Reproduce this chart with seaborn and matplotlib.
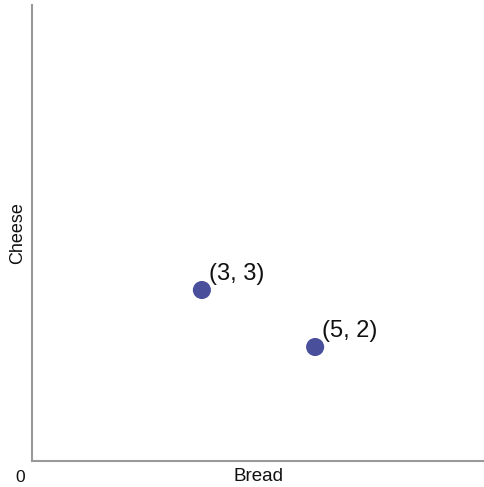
import matplotlib
matplotlib.use("Agg")
import matplotlib.pyplot as plt
import seaborn as sns
import pandas as pd

bread = [3, 5]
cheese = [3, 2]
labels = ["(3, 3)", "(5, 2)"]

sns.set_style("white")
plt.rcParams['font.family'] = ['Liberation Sans', 'DejaVu Sans']

df = pd.DataFrame({"Bread": bread, "Cheese": cheese})

fig = plt.figure(figsize=(4.85, 4.87), dpi=100)
ax = fig.add_axes([0.066, 0.0534, 0.934, 0.9363])
sns.scatterplot(data=df, x="Bread", y="Cheese", ax=ax, s=170, color="#4a4f9c",
                edgecolor="none", zorder=3)
for x, y, t in zip(bread, cheese, labels):
    ax.annotate(t, (x, y), xytext=(5, 3.5), textcoords="offset points",
                fontsize=17, ha="left", va="bottom", color="#111111")

ax.set_xlim(0, 8)
ax.set_ylim(0, 8)
ax.set_xticks([])
ax.set_yticks([])
ax.set_xlabel("Bread", fontsize=13.5, labelpad=5, color="#111111")
ax.set_ylabel("Cheese", fontsize=13, labelpad=4, color="#111111")
fig.text(20 / 485, 1 - 477.5 / 487, "0", fontsize=12.5,
         ha="center", va="center", color="#111111")
for side in ["top", "right"]:
    ax.spines[side].set_visible(False)
for side in ["left", "bottom"]:
    ax.spines[side].set_color("#999999")
    ax.spines[side].set_linewidth(1.5)

fig.savefig("out.png", dpi=100)
